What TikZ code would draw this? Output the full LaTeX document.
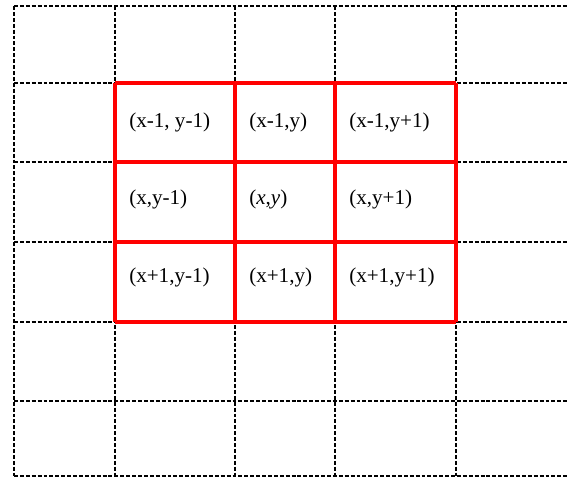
\documentclass[tikz,border=0pt]{standalone}
\usepackage{fontspec}
\setmainfont{Liberation Serif}
\begin{document}
\begin{tikzpicture}[x=0.025cm, y=-0.025cm,
    gridline/.style={line width=1.1pt, dash pattern=on 2.8pt off 1.4pt},
    redline/.style={red, line width=2.9pt},
    lbl/.style={anchor=west, inner sep=0pt, font=\fontsize{15}{18}\selectfont}]
        \useasboundingbox (0,0) rectangle (568,477);

        % Dashed background grid (no line on the right edge)
        \foreach \y in {6,83,162,242,322,401,476}
          \draw[gridline] (14,\y)--(568,\y);
        \foreach \x in {14,115,235,335,456}
          \draw[gridline] (\x,6)--(\x,476);

        % Red 3x3 neighbourhood
        \foreach \y in {83,162,242,322}
          \draw[redline] (115,\y)--(456,\y);
        \foreach \x in {115,235,335,456}
          \draw[redline] (\x,83)--(\x,322);

        % Labels of the cells
        \node[lbl] (nw) at (129,122) {(x-1, y-1)};
        \node[lbl] (n)  at (249,122) {(x-1,y)};
        \node[lbl] (ne) at (349,122) {(x-1,y+1)};
        \node[lbl] (w)  at (129,199) {(x,y-1)};
        \node[lbl] (c)  at (249,199) {({\itshape x},{\itshape y})};
        \node[lbl] (e)  at (349,199) {(x,y+1)};
        \node[lbl] (sw) at (129,277) {(x+1,y-1)};
        \node[lbl] (s)  at (249,277) {(x+1,y)};
        \node[lbl] (se) at (349,277) {(x+1,y+1)};
\end{tikzpicture}
\end{document}
